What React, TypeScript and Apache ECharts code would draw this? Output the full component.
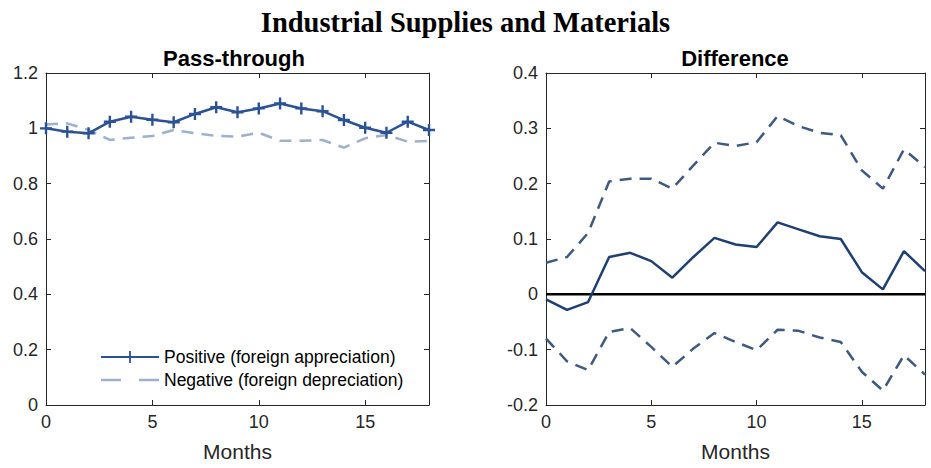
import React, { useEffect, useRef } from "react";
import * as echarts from "echarts";

const months = [0, 1, 2, 3, 4, 5, 6, 7, 8, 9, 10, 11, 12, 13, 14, 15, 16, 17, 18];
const positive = [1.0, 0.988, 0.982, 1.024, 1.042, 1.031, 1.022, 1.052, 1.076, 1.058, 1.072, 1.09, 1.072, 1.062, 1.03, 1.002, 0.984, 1.024, 0.994];
const negative = [1.014, 1.018, 0.994, 0.958, 0.966, 0.972, 0.994, 0.982, 0.973, 0.97, 0.984, 0.955, 0.955, 0.958, 0.93, 0.964, 0.976, 0.952, 0.954];
const diffMid = [-0.009, -0.028, -0.014, 0.0675, 0.075, 0.06, 0.03, 0.0675, 0.102, 0.09, 0.0855, 0.13, 0.1175, 0.105, 0.1, 0.04, 0.009, 0.078, 0.042];
const diffUpper = [0.057, 0.0675, 0.111, 0.204, 0.209, 0.209, 0.191, 0.233, 0.274, 0.268, 0.275, 0.322, 0.304, 0.292, 0.2875, 0.224, 0.191, 0.262, 0.23];
const diffLower = [-0.08, -0.121, -0.137, -0.068, -0.061, -0.095, -0.131, -0.098, -0.07, -0.086, -0.101, -0.064, -0.066, -0.078, -0.086, -0.14, -0.174, -0.11, -0.145];

const FONT = "Liberation Sans";
const AXIS_COLOR = "#262626";

const pairs = (ys: number[]) => months.map((m, i) => [m, ys[i]]);

export default function App() {
  const ref = useRef<HTMLDivElement>(null);
  useEffect(() => {
    if (!ref.current) return;
    const chart = echarts.init(ref.current, undefined, { renderer: "svg" });
    const xBase = (gridIndex: number, pos: "bottom" | "top") => ({
      type: "value" as const,
      gridIndex,
      position: pos,
      min: 0,
      max: 18,
      interval: 5,
      name: pos === "bottom" ? "Months" : "",
      nameLocation: "middle" as const,
      nameGap: 36,
      nameTextStyle: { fontFamily: FONT, fontSize: 21, color: "#262626" },
      axisLine: { show: true, onZero: false, lineStyle: { color: AXIS_COLOR, width: 1 } },
      axisTick: { show: true, inside: true, length: 5, lineStyle: { color: AXIS_COLOR } },
      axisLabel: {
        show: pos === "bottom",
        fontFamily: FONT,
        fontSize: 18,
        color: "#262626",
        margin: 8,
        formatter: (v: number) => (v % 5 === 0 ? String(v) : ""),
      },
      splitLine: { show: false },
    });
    const yBase = (gridIndex: number, pos: "left" | "right", min: number, max: number, interval: number) => ({
      type: "value" as const,
      gridIndex,
      position: pos,
      min,
      max,
      interval,
      axisLine: { show: true, onZero: false, lineStyle: { color: AXIS_COLOR, width: 1 } },
      axisTick: { show: true, inside: true, length: 5, lineStyle: { color: AXIS_COLOR } },
      axisLabel: {
        show: pos === "left",
        fontFamily: FONT,
        fontSize: 18,
        color: "#262626",
        margin: 8,
        formatter: (v: number) => (Math.abs(v) < 1e-9 ? "0" : String(Math.round(v * 10) / 10)),
      },
      splitLine: { show: false },
    });

    chart.setOption({
      animation: false,
      backgroundColor: "#ffffff",
      title: [
        {
          text: "Industrial Supplies and Materials",
          left: "center",
          top: 3,
          textStyle: { fontFamily: "Liberation Serif", fontWeight: "bold", fontSize: 28.5, color: "#000" },
        },
      ],
      graphic: [
        {
          type: "text",
          x: 234,
          y: 58,
          style: {
            text: "Pass-through",
            fontFamily: FONT,
            fontWeight: "bold",
            fontSize: 22,
            fill: "#000",
            align: "center",
            verticalAlign: "middle",
          },
        },
        {
          type: "text",
          x: 735,
          y: 58,
          style: {
            text: "Difference",
            fontFamily: FONT,
            fontWeight: "bold",
            fontSize: 22,
            fill: "#000",
            align: "center",
            verticalAlign: "middle",
          },
        },
      ],
      grid: [
        { left: 46, top: 73, width: 383, height: 332, show: false },
        { left: 546, top: 73, width: 379, height: 332, show: false },
      ],
      legend: {
        left: 96,
        top: 343,
        orient: "vertical",
        itemWidth: 58,
        itemHeight: 12,
        itemGap: 5,
        symbolKeepAspect: true,
        textStyle: { fontFamily: FONT, fontSize: 17.5, color: "#000" },
        data: [
          {
            name: "Positive (foreign appreciation)",
            icon: "path://M0,5.1H58V6.9H0Z M28.1,0H29.9V12H28.1Z M24,5H34V7H24Z",
          },
          {
            name: "Negative (foreign depreciation)",
            icon: "path://M0,0H20V2.5H0Z M38,0H58V2.5H38Z",
          },
        ],
      },
      xAxis: [xBase(0, "bottom"), xBase(0, "top"), xBase(1, "bottom"), xBase(1, "top")],
      yAxis: [
        yBase(0, "left", 0, 1.2, 0.2),
        yBase(0, "right", 0, 1.2, 0.2),
        yBase(1, "left", -0.2, 0.4, 0.1),
        yBase(1, "right", -0.2, 0.4, 0.1),
      ],
      series: [
        {
          name: "Negative (foreign depreciation)",
          type: "line",
          xAxisIndex: 0,
          yAxisIndex: 0,
          data: pairs(negative),
          symbol: "none",
          lineStyle: { color: "#9db1cf", width: 2.5, type: [12, 8] },
          itemStyle: { color: "#9db1cf" },
        },
        {
          name: "Positive (foreign appreciation)",
          type: "line",
          xAxisIndex: 0,
          yAxisIndex: 0,
          data: pairs(positive),
          symbol: "path://M4,0H6V4H10V6H6V10H4V6H0V4H4Z",
          symbolSize: 12,
          lineStyle: { color: "#2b5294", width: 2.5 },
          itemStyle: { color: "#2b5294" },
        },
        {
          name: "zero",
          type: "line",
          xAxisIndex: 2,
          yAxisIndex: 2,
          data: [[0, 0], [18, 0]],
          symbol: "none",
          lineStyle: { color: "#000", width: 2.5 },
        },
        {
          name: "upper",
          type: "line",
          xAxisIndex: 2,
          yAxisIndex: 2,
          data: pairs(diffUpper),
          symbol: "none",
          lineStyle: { color: "#3f5a80", width: 2.5, type: [12, 8] },
        },
        {
          name: "lower",
          type: "line",
          xAxisIndex: 2,
          yAxisIndex: 2,
          data: pairs(diffLower),
          symbol: "none",
          lineStyle: { color: "#3f5a80", width: 2.5, type: [12, 8] },
        },
        {
          name: "mid",
          type: "line",
          xAxisIndex: 2,
          yAxisIndex: 2,
          data: pairs(diffMid),
          symbol: "none",
          lineStyle: { color: "#1d3f74", width: 2.5 },
        },
      ],
    });
    return () => chart.dispose();
  }, []);
  return <div ref={ref} style={{ width: 931, height: 468, position: "absolute", left: 0, top: 0 }} />;
}
